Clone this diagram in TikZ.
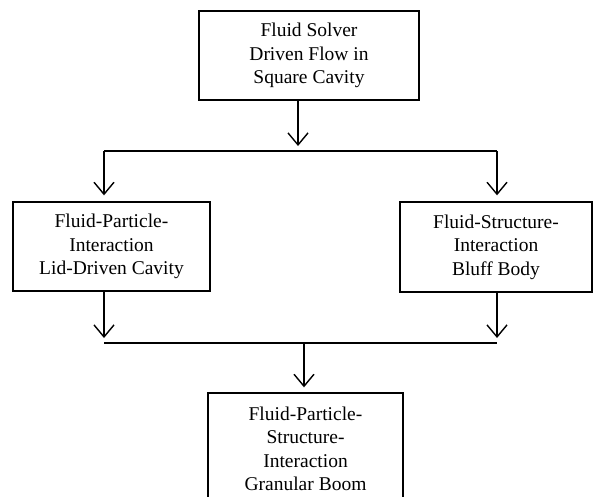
\documentclass[tikz,border=0pt]{standalone}
\usepackage{fontspec}
\setmainfont{Liberation Serif}
\usetikzlibrary{arrows.meta}

\tikzset{
  box/.style={draw,line width=1.4pt,align=center,inner sep=0pt,
    font=\fontsize{19.5}{23.5}\selectfont},
  arr/.style={line width=1.4pt,
    -{Straight Barb[length=12pt,width=20pt,line width=1.4pt]}}
}

\begin{document}
\begin{tikzpicture}[x=1pt,y=-1pt]
        \clip (0,0) rectangle (593,496);
        \useasboundingbox (0,0) rectangle (593,496);

            \node (fs)   at (309,55.5)  [box,minimum width=220pt,minimum height=89pt] {Fluid Solver\\Driven Flow in\\Square Cavity};
            \node (fpi)  at (111.5,246.5) [box,minimum width=197pt,minimum height=89pt] {Fluid-Particle-\\Interaction\\Lid-Driven Cavity};
            \node (fsi)  at (496,247)   [box,minimum width=192pt,minimum height=90pt] {Fluid-Structure-\\Interaction\\Bluff Body};
            \node (fpsi) at (305.5,449) [box,minimum width=195pt,minimum height=112pt] {Fluid-Particle-\\Structure-\\Interaction\\Granular Boom};

            % split line
            \coordinate (sl) at (104,151);
            \coordinate (sr) at (497,151);
            \coordinate (sm) at (298,151);
            \draw[line width=1.4pt] (sl) -- (sr);
            \draw[arr,shorten >=5pt] (fs.south -| sm) -- (sm);
            \draw[arr,shorten >=6pt] (sl) -- (sl |- fpi.north);
            \draw[arr,shorten >=6pt] (sr) -- (sr |- fsi.north);

            % join line
            \coordinate (jl) at (104,343);
            \coordinate (jr) at (497,343);
            \coordinate (jm) at (304,343);
            \draw[line width=1.4pt] (jl) -- (jr);
            \draw[arr,shorten >=5pt] (fpi.south -| jl) -- (jl);
            \draw[arr,shorten >=5pt] (fsi.south -| jr) -- (jr);
            \draw[arr,shorten >=5pt] (jm) -- (jm |- fpsi.north);

        \end{tikzpicture}
\end{document}
